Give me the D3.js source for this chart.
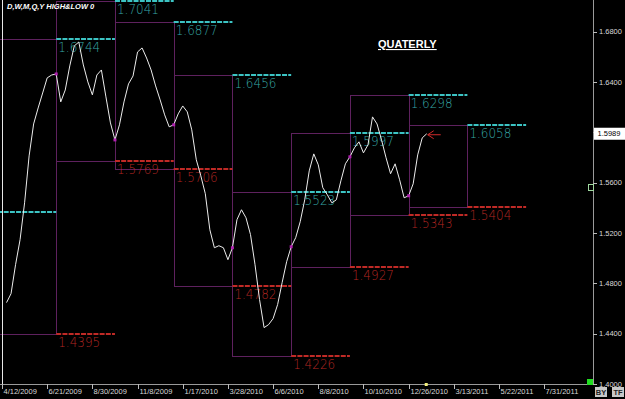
<!DOCTYPE html>
<html>
<head>
<meta charset="utf-8">
<script src="https://cdnjs.cloudflare.com/ajax/libs/d3/7.8.5/d3.min.js"></script>
<style>
  html, body { margin: 0; padding: 0; background: #000; }
  svg { display: block; }
</style>
</head>
<body>
<div id="chart"></div>
<script>
// x axis labels, one every 10 weekly bars
const dateLabels = ["4/12/2009", "6/21/2009", "8/30/2009", "11/8/2009", "1/17/2010", "3/28/2010",
  "6/6/2010", "8/8/2010", "10/10/2010", "12/26/2010", "3/13/2011", "5/22/2011", "7/31/2011"];

// weekly closes, first one at bar 1
const closes = [
  1.4647, 1.4718, 1.4948, 1.5147, 1.5440, 1.5813, 1.6067, 1.6194, 1.6313, 1.6433,
  1.6456, 1.6464, 1.6242, 1.6337, 1.6528, 1.6687, 1.6718, 1.6536, 1.6401, 1.6298,
  1.6456, 1.6496, 1.6282, 1.6075, 1.5940, 1.6060, 1.6242, 1.6385, 1.6448, 1.6639,
  1.6671, 1.6591, 1.6496, 1.6369, 1.6258, 1.6139, 1.6044, 1.6060, 1.6147, 1.6210,
  1.6163, 1.6020, 1.5782, 1.5655, 1.5512, 1.5226, 1.5083, 1.5099, 1.5083, 1.4988,
  1.5083, 1.5306, 1.5385, 1.5321, 1.5187, 1.4948, 1.4671, 1.4448, 1.4472, 1.4520,
  1.4631, 1.4806, 1.4972, 1.5091, 1.5163, 1.5290, 1.5464, 1.5694, 1.5829, 1.5742,
  1.5560, 1.5504, 1.5440, 1.5464, 1.5615, 1.5750, 1.5806, 1.5877, 1.5925, 1.5837,
  1.5901, 1.6123, 1.6067, 1.5940, 1.5798, 1.5671, 1.5750, 1.5623, 1.5480, 1.5496,
  1.5591, 1.5821, 1.5956, 1.5989
];

// quarters: first weekly bar, high, low
const quarterStart = [-14, -1, 12, 25, 38, 51, 64, 77, 90];
const quarterHigh = [1.5371, 1.6744, 1.7041, 1.6877, 1.6456, 1.5523, 1.5997, 1.6298, 1.6058];
const quarterLow = [1.3503, 1.4395, 1.5769, 1.5706, 1.4782, 1.4226, 1.4927, 1.5343, 1.5404];
const quarterLen = 13;

const yTicks = [1.40, 1.44, 1.48, 1.52, 1.56, 1.60, 1.64, 1.68];

const width = 625, height = 399;
const plot = {left: 2, right: 593, top: 0, bottom: 384};

const svg = d3.select("#chart").append("svg")
    .attr("width", width)
    .attr("height", height)
    .style("background", "#000");

const x = d3.scaleLinear().domain([0, 130.8]).range([plot.left, plot.right]);
const y = d3.scaleLinear().domain([1.40, 1.7052]).range([plot.bottom, plot.top]);

svg.append("clipPath").attr("id", "clip")
  .append("rect")
    .attr("x", 0).attr("y", 0)
    .attr("width", plot.right).attr("height", plot.bottom + 1);

const g = svg.append("g").attr("clip-path", "url(#clip)");

const quarters = quarterStart.map((s, i) => ({start: s, end: s + quarterLen, high: quarterHigh[i], low: quarterLow[i]}));

// purple range box of each quarter
const boxColor = "#5e215e";
g.selectAll("rect.qbox")
  .data(quarters)
  .enter().append("rect")
    .attr("class", "qbox")
    .attr("x", d => Math.round(x(d.start)) + 0.5)
    .attr("y", d => Math.round(y(d.high)) + 0.5)
    .attr("width", d => Math.round(x(d.end)) - Math.round(x(d.start)))
    .attr("height", d => Math.round(y(d.low)) - Math.round(y(d.high)))
    .attr("fill", "none")
    .attr("stroke", boxColor)
    .attr("stroke-width", 1);

// previous quarter high / low carried into the next quarter
const levels = [];
quarters.forEach(q => {
  levels.push({start: q.end, end: q.end + quarterLen, value: q.high, kind: "high"});
  levels.push({start: q.end, end: q.end + quarterLen, value: q.low, kind: "low"});
});

const lineColor = {high: "#3cc4c4", low: "#c02a26"};
const labelColor = {high: "#36a6a6", low: "#b02622"};

g.selectAll("line.level")
  .data(levels)
  .enter().append("line")
    .attr("class", "level")
    .attr("x1", d => x(d.start))
    .attr("x2", d => x(d.end))
    .attr("y1", d => Math.round(y(d.value)))
    .attr("y2", d => Math.round(y(d.value)))
    .attr("stroke", d => lineColor[d.kind])
    .attr("stroke-width", 2)
    .attr("stroke-dasharray", "5,1.2");

g.selectAll("text.level")
  .data(levels.filter(d => x(d.start) >= 0))
  .enter().append("text")
    .attr("class", "level")
    .attr("x", d => x(d.start) + 2)
    .attr("y", d => Math.round(y(d.value)) + 13)
    .attr("fill", d => labelColor[d.kind])
    .attr("font-family", "DejaVu Sans, sans-serif")
    .attr("font-weight", 200)
    .attr("font-size", 14)
    .attr("textLength", 42)
    .attr("lengthAdjust", "spacingAndGlyphs")
    .text(d => d.value.toFixed(4));

// price line
const pts = closes.map((v, i) => ({i: i + 1, v: v}));
g.append("path")
    .datum(pts)
    .attr("fill", "none")
    .attr("stroke", "#ececec")
    .attr("stroke-width", 1)
    .attr("d", d3.line().x(d => x(d.i)).y(d => y(d.v)));

// markers on the first bar of each quarter
g.selectAll("rect.qdot")
  .data(pts.filter(d => quarterStart.includes(d.i)))
  .enter().append("rect")
    .attr("class", "qdot")
    .attr("x", d => x(d.i) - 1.5)
    .attr("y", d => y(d.v) - 1.5)
    .attr("width", 3).attr("height", 3)
    .attr("fill", "#b020b0");

// red arrow at the last close
const last = pts[pts.length - 1];
const ax = x(last.i) + 1, ay = y(last.v) + 1;
svg.append("path")
    .attr("d", `M${ax + 13},${ay} L${ax},${ay} M${ax + 6},${ay - 4} L${ax},${ay} L${ax + 6},${ay + 4}`)
    .attr("fill", "none")
    .attr("stroke", "#d02a2a")
    .attr("stroke-width", 1);

// frame
svg.append("line")
    .attr("x1", 2.5).attr("x2", 2.5).attr("y1", 0).attr("y2", plot.bottom)
    .attr("stroke", "#e8e8e8");
svg.append("line")
    .attr("x1", plot.right + 0.5).attr("x2", plot.right + 0.5).attr("y1", 0).attr("y2", plot.bottom + 1)
    .attr("stroke", "#9a9a9a");
svg.append("line")
    .attr("x1", 0).attr("x2", plot.right).attr("y1", plot.bottom + 0.5).attr("y2", plot.bottom + 0.5)
    .attr("stroke", "#9a9a9a");

// y axis
const yAxis = svg.append("g");
yTicks.forEach(t => {
  yAxis.append("line")
      .attr("x1", plot.right).attr("x2", plot.right + 4)
      .attr("y1", Math.round(y(t)) + 0.5).attr("y2", Math.round(y(t)) + 0.5)
      .attr("stroke", "#bbb");
  yAxis.append("text")
      .attr("x", plot.right + 6)
      .attr("y", y(t))
      .attr("dy", "0.35em")
      .attr("fill", "#d8d8d8")
      .attr("font-family", "Liberation Sans, Arial, sans-serif")
      .attr("font-size", 7.5)
      .text(t.toFixed(4));
});

// x axis
const xAxis = svg.append("g");
dateLabels.forEach((lab, k) => {
  const xp = Math.round(x(k * 10)) + 0.5;
  xAxis.append("line")
      .attr("x1", xp).attr("x2", xp)
      .attr("y1", plot.bottom).attr("y2", plot.bottom + 5)
      .attr("stroke", "#bbb");
  xAxis.append("text")
      .attr("x", xp + 1)
      .attr("y", 394)
      .attr("fill", "#d8d8d8")
      .attr("font-family", "Liberation Sans, Arial, sans-serif")
      .attr("font-size", 7.5)
      .text(lab);
});

// current bar marker on the time axis
svg.append("rect")
    .attr("x", x(last.i) - 2).attr("y", plot.bottom - 1)
    .attr("width", 3).attr("height", 3)
    .attr("fill", "#f4f07a");

// current price box
svg.append("rect")
    .attr("x", plot.right + 1).attr("y", y(last.v) - 6)
    .attr("width", 31).attr("height", 12)
    .attr("fill", "#fff");
svg.append("text")
    .attr("x", plot.right + 16).attr("y", y(last.v))
    .attr("dy", "0.35em")
    .attr("text-anchor", "middle")
    .attr("fill", "#000")
    .attr("font-family", "Liberation Sans, Arial, sans-serif")
    .attr("font-size", 7.5)
    .text(last.v.toFixed(4));

// small scale icon
svg.append("rect")
    .attr("x", 588.5).attr("y", 184.5).attr("width", 5).attr("height", 6)
    .attr("fill", "#000").attr("stroke", "#9fd89f");

// titles
svg.append("text")
    .attr("x", 7).attr("y", 9)
    .attr("fill", "#fff")
    .attr("font-family", "Liberation Sans, Arial, sans-serif")
    .attr("font-size", 7.5)
    .attr("font-weight", "bold")
    .attr("font-style", "italic")
    .text("D,W,M,Q,Y HIGH&LOW 0");

svg.append("text")
    .attr("x", 378).attr("y", 48)
    .attr("fill", "#fff")
    .attr("font-family", "Liberation Sans, Arial, sans-serif")
    .attr("font-size", 11)
    .attr("font-weight", "bold")
    .attr("text-decoration", "underline")
    .text("QUATERLY");

// corner buttons
svg.append("rect")
    .attr("x", 587).attr("y", 379).attr("width", 6).attr("height", 6)
    .attr("fill", "#22dd22");
[["BY", 595], ["TF", 612]].forEach(([t, bx]) => {
  svg.append("rect")
      .attr("x", bx).attr("y", 387).attr("width", 12).attr("height", 10)
      .attr("fill", "#c8c8c8");
  svg.append("text")
      .attr("x", bx + 6).attr("y", 395)
      .attr("text-anchor", "middle")
      .attr("fill", "#222")
      .attr("font-family", "Liberation Sans, Arial, sans-serif")
      .attr("font-size", 7.5)
      .attr("font-weight", "bold")
      .text(t);
});
</script>
</body>
</html>
